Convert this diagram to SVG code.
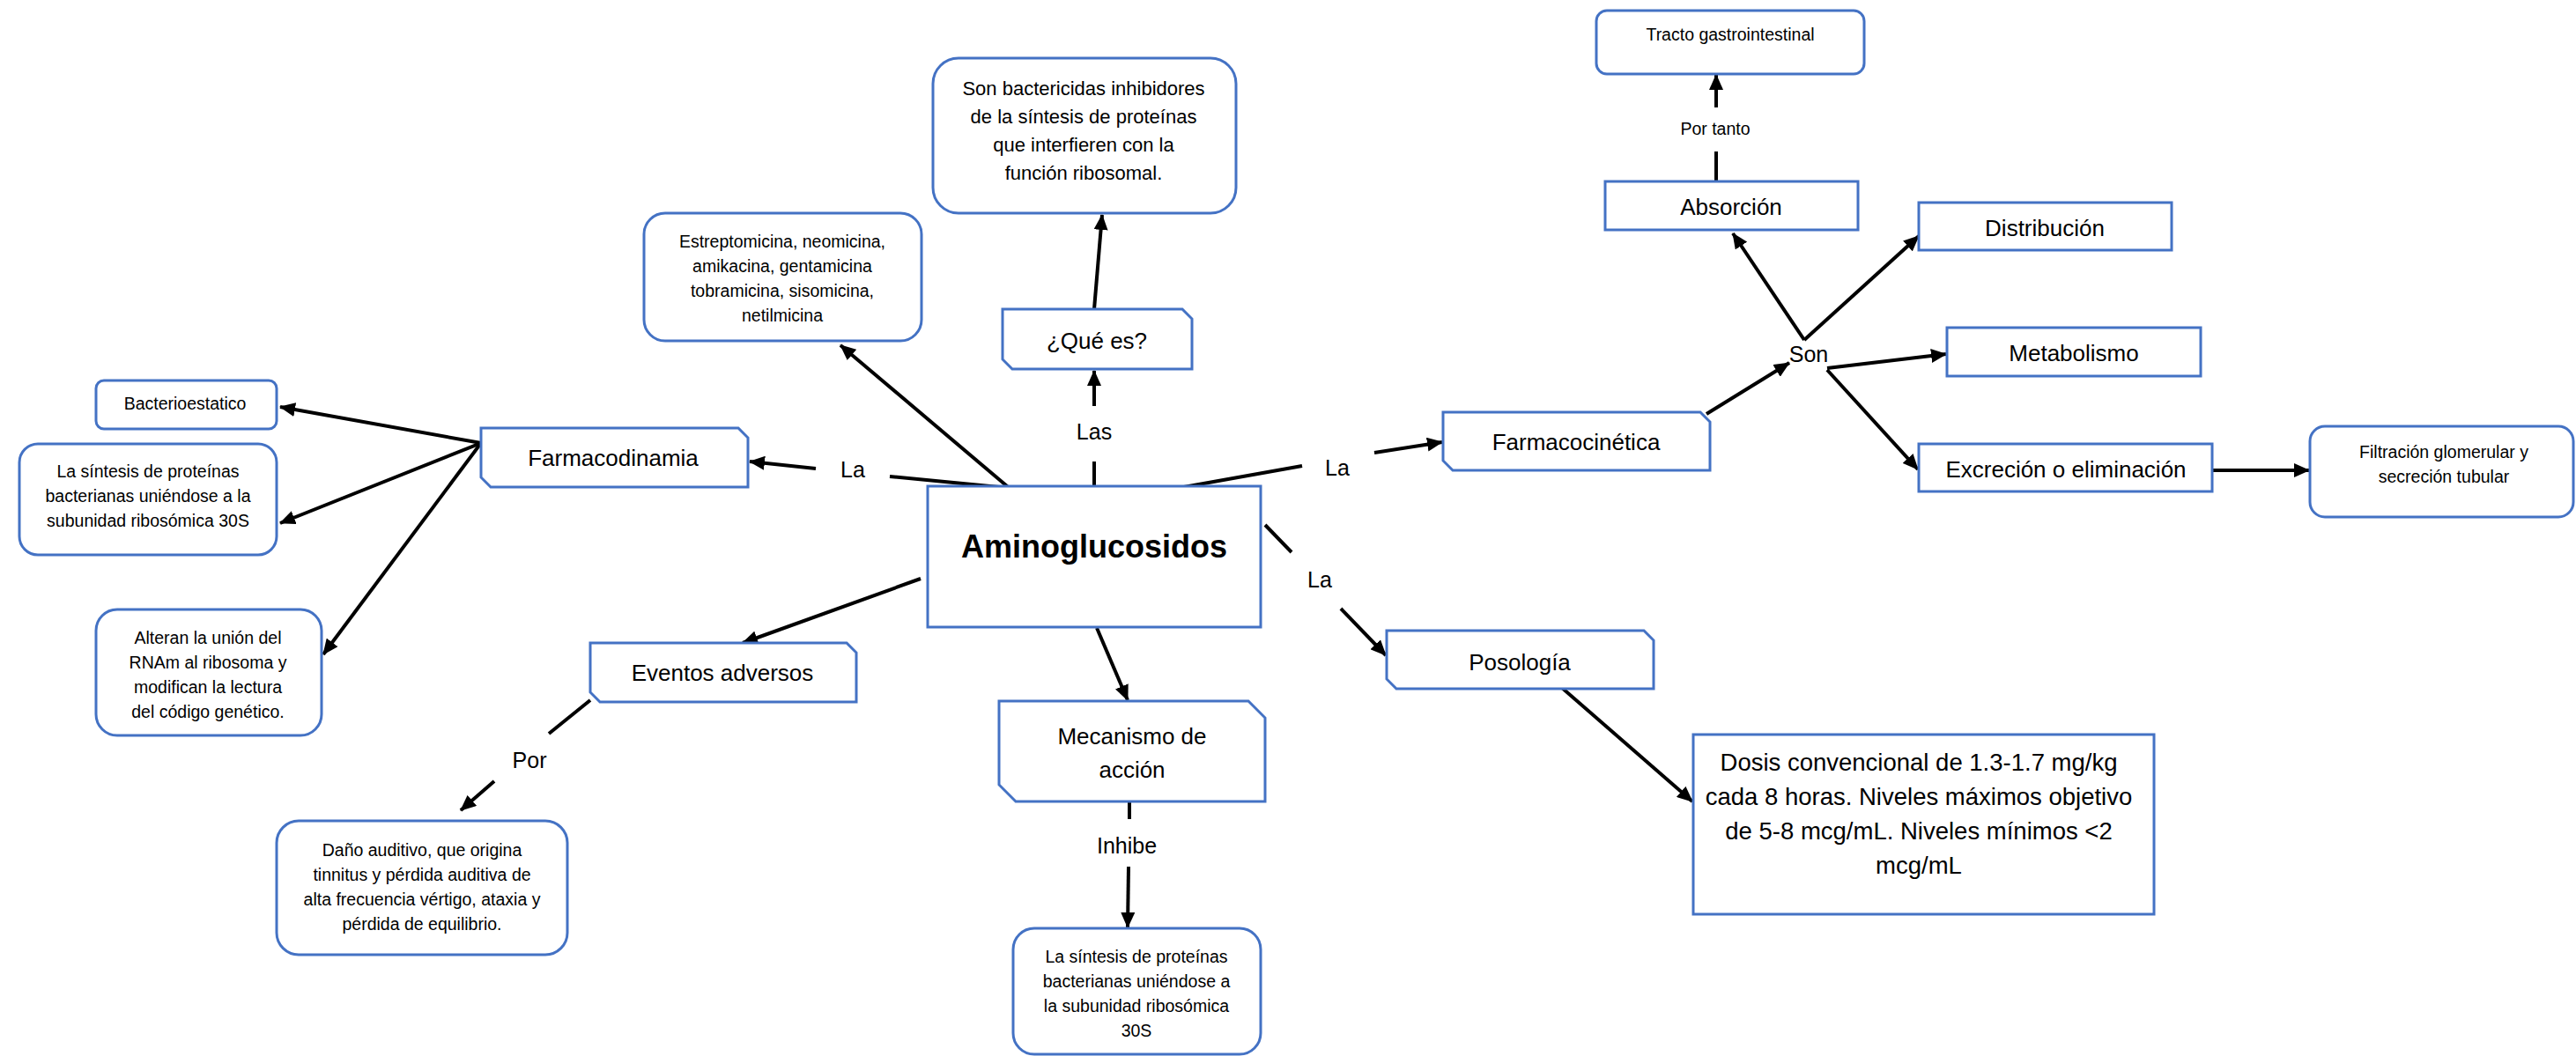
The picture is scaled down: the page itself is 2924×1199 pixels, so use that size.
<svg xmlns="http://www.w3.org/2000/svg" width="2924" height="1199" viewBox="0 0 2924 1199">
<style>
.box{fill:#fff;stroke:#4472C4;stroke-width:3}
text{font-family:"Liberation Sans",Arial,sans-serif;fill:#000;text-anchor:middle}
.sm{font-size:19.5px}
.md{font-size:22px}
.lg{font-size:26px}
.lb{font-size:25px}
.xl{font-size:27.5px}
.ttl{font-size:36px;font-weight:bold}
.c{stroke:#000;stroke-width:4;fill:none}
.a{marker-end:url(#ah)}
</style>
<defs>
<marker id="ah" markerUnits="userSpaceOnUse" markerWidth="18" markerHeight="16" refX="17" refY="8" orient="auto">
<path d="M0,0 L18,8 L0,16 z" fill="#000"/>
</marker>
</defs>
<rect width="2924" height="1199" fill="#fff"/>
<g id="connectors">
<line class="c" x1="1242" y1="552" x2="1242" y2="524"/>
<line class="c a" x1="1242" y1="461" x2="1242" y2="421"/>
<line class="c a" x1="1242" y1="351" x2="1251" y2="244"/>
<line class="c a" x1="1149" y1="557" x2="954" y2="392"/>
<line class="c" x1="1134" y1="553" x2="1010" y2="541"/>
<line class="c a" x1="926" y1="532" x2="851" y2="524"/>
<line class="c a" x1="546" y1="503" x2="318" y2="462"/>
<line class="c a" x1="546" y1="503" x2="318" y2="594"/>
<line class="c a" x1="546" y1="503" x2="367" y2="743"/>
<line class="c a" x1="1045" y1="657" x2="843" y2="730"/>
<line class="c" x1="670" y1="795" x2="623" y2="833"/>
<line class="c a" x1="561" y1="887" x2="523" y2="920"/>
<line class="c a" x1="1245" y1="713" x2="1280" y2="795"/>
<line class="c" x1="1282" y1="910" x2="1282" y2="930"/>
<line class="c a" x1="1281" y1="984" x2="1280" y2="1053"/>
<line class="c" x1="1327" y1="556" x2="1478" y2="529"/>
<line class="c a" x1="1560" y1="514" x2="1637" y2="502"/>
<line class="c" x1="1436" y1="596" x2="1466" y2="627"/>
<line class="c a" x1="1522" y1="691" x2="1573" y2="744"/>
<line class="c a" x1="1765" y1="774" x2="1921" y2="910"/>
<line class="c a" x1="1937" y1="470" x2="2031" y2="412"/>
<line class="c a" x1="2048" y1="386" x2="1967" y2="265"/>
<line class="c a" x1="2048" y1="386" x2="2178" y2="268"/>
<line class="c a" x1="2074" y1="418" x2="2209" y2="402"/>
<line class="c a" x1="2074" y1="420" x2="2177" y2="533"/>
<line class="c" x1="1948" y1="205" x2="1948" y2="172"/>
<line class="c a" x1="1948" y1="122" x2="1948" y2="85"/>
<line class="c a" x1="2511" y1="534" x2="2621" y2="534"/>
<text class="lb" x="1242" y="499">Las</text>
<text class="lb" x="968" y="542">La</text>
<text class="lb" x="1518" y="540">La</text>
<text class="lb" x="1498" y="667">La</text>
<text class="lb" x="601" y="872">Por</text>
<text class="lb" x="1279" y="969">Inhibe</text>
<text class="lb" x="2053" y="411">Son</text>
<text class="sm" x="1947" y="153">Por tanto</text>
</g>
<g id="n-center">
<rect class="box" x="1053" y="552" width="378" height="160"/>
<text class="ttl" x="1242" y="633">Aminoglucosidos</text>
</g>
<g id="n-sonbactericidas">
<rect class="box" x="1059" y="66" width="344" height="176" rx="29"/>
<text class="md" x="1230" y="108">Son bactericidas inhibidores</text>
<text class="md" x="1230" y="140">de la síntesis de proteínas</text>
<text class="md" x="1230" y="172">que interfieren con la</text>
<text class="md" x="1230" y="204">función ribosomal.</text>
</g>
<g id="n-estreptomicina">
<rect class="box" x="731" y="242" width="315" height="145" rx="24"/>
<text class="sm" x="888" y="281">Estreptomicina, neomicina,</text>
<text class="sm" x="888" y="309">amikacina, gentamicina</text>
<text class="sm" x="888" y="337">tobramicina, sisomicina,</text>
<text class="sm" x="888" y="365">netilmicina</text>
</g>
<g id="n-quees">
<path class="box" d="M1138,351 H1342 L1353,362 V419 H1149 L1138,408 Z"/>
<text class="lg" x="1245" y="396">¿Qué es?</text>
</g>
<g id="n-farmacodinamia">
<path class="box" d="M546,486 H838 L849,497 V553 H557 L546,542 Z"/>
<text class="lg" x="696" y="529">Farmacodinamia</text>
</g>
<g id="n-bacterioestatico">
<rect class="box" x="109" y="432" width="205" height="55" rx="9"/>
<text class="sm" x="210" y="465">Bacterioestatico</text>
</g>
<g id="n-sintesis1">
<rect class="box" x="22" y="504" width="292" height="126" rx="21"/>
<text class="sm" x="168" y="542">La síntesis de proteínas</text>
<text class="sm" x="168" y="570">bacterianas uniéndose a la</text>
<text class="sm" x="168" y="598">subunidad ribosómica 30S</text>
</g>
<g id="n-alteran">
<rect class="box" x="109" y="692" width="256" height="143" rx="24"/>
<text class="sm" x="236" y="731">Alteran la unión del</text>
<text class="sm" x="236" y="759">RNAm al ribosoma y</text>
<text class="sm" x="236" y="787">modifican la lectura</text>
<text class="sm" x="236" y="815">del código genético.</text>
</g>
<g id="n-eventos">
<path class="box" d="M670,730 H961 L972,741 V797 H681 L670,786 Z"/>
<text class="lg" x="820" y="773">Eventos adversos</text>
</g>
<g id="n-dano">
<rect class="box" x="314" y="932" width="330" height="152" rx="25"/>
<text class="sm" x="479" y="972">Daño auditivo, que origina</text>
<text class="sm" x="479" y="1000">tinnitus y pérdida auditiva de</text>
<text class="sm" x="479" y="1028">alta frecuencia vértigo, ataxia y</text>
<text class="sm" x="479" y="1056">pérdida de equilibrio.</text>
</g>
<g id="n-mecanismo">
<path class="box" d="M1134,796 H1417 L1436,815 V910 H1153 L1134,891 Z"/>
<text class="lg" x="1285" y="845">Mecanismo de</text>
<text class="lg" x="1285" y="883">acción</text>
</g>
<g id="n-sintesis2">
<rect class="box" x="1150" y="1054" width="281" height="143" rx="24"/>
<text class="sm" x="1290" y="1093">La síntesis de proteínas</text>
<text class="sm" x="1290" y="1121">bacterianas uniéndose a</text>
<text class="sm" x="1290" y="1149">la subunidad ribosómica</text>
<text class="sm" x="1290" y="1177">30S</text>
</g>
<g id="n-posologia">
<path class="box" d="M1574,716 H1866 L1877,727 V782 H1585 L1574,771 Z"/>
<text class="lg" x="1725" y="761">Posología</text>
</g>
<g id="n-dosis">
<rect class="box" x="1922" y="834" width="523" height="204"/>
<text class="xl" x="2178" y="875">Dosis convencional de 1.3-1.7 mg/kg</text>
<text class="xl" x="2178" y="914">cada 8 horas. Niveles máximos objetivo</text>
<text class="xl" x="2178" y="953">de 5-8 mcg/mL. Niveles mínimos &lt;2</text>
<text class="xl" x="2178" y="992">mcg/mL</text>
</g>
<g id="n-farmacocinetica">
<path class="box" d="M1638,468 H1930 L1941,479 V534 H1649 L1638,523 Z"/>
<text class="lg" x="1789" y="511">Farmacocinética</text>
</g>
<g id="n-absorcion">
<rect class="box" x="1822" y="206" width="287" height="55"/>
<text class="lg" x="1965" y="244">Absorción</text>
</g>
<g id="n-distribucion">
<rect class="box" x="2178" y="230" width="287" height="54"/>
<text class="lg" x="2321" y="268">Distribución</text>
</g>
<g id="n-metabolismo">
<rect class="box" x="2210" y="372" width="288" height="55"/>
<text class="lg" x="2354" y="410">Metabolismo</text>
</g>
<g id="n-excrecion">
<rect class="box" x="2178" y="504" width="333" height="54"/>
<text class="lg" x="2345" y="542">Excreción o eliminación</text>
</g>
<g id="n-filtracion">
<rect class="box" x="2622" y="484" width="299" height="103" rx="17"/>
<text class="sm" x="2774" y="520">Filtración glomerular y</text>
<text class="sm" x="2774" y="548">secreción tubular</text>
</g>
<g id="n-tracto">
<rect class="box" x="1812" y="12" width="304" height="72" rx="12"/>
<text class="sm" x="1964" y="46">Tracto gastrointestinal</text>
</g>
</svg>
